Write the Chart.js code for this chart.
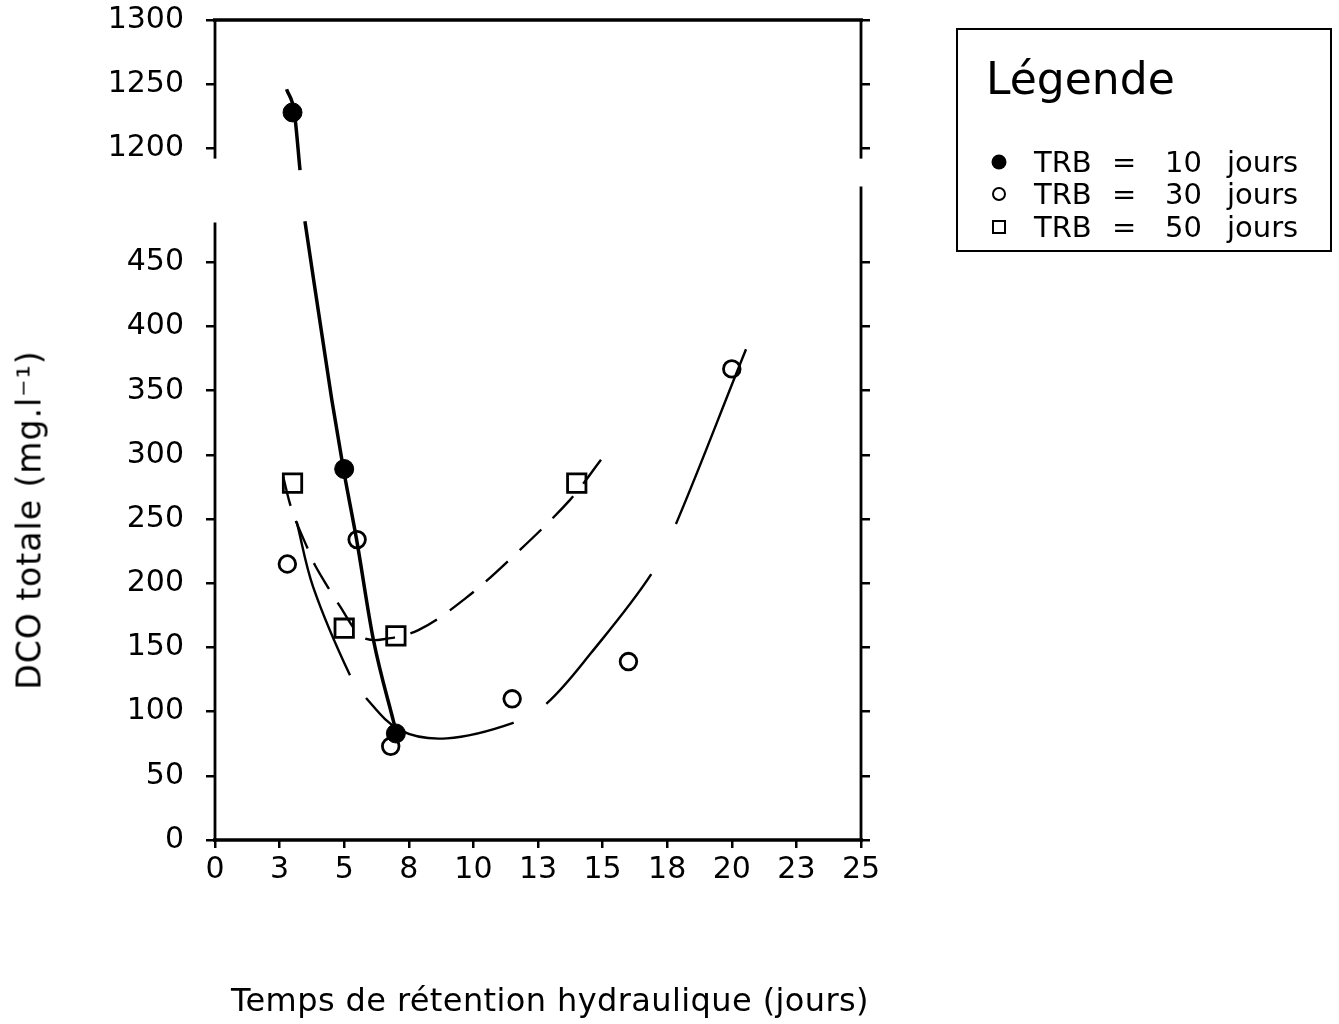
<!DOCTYPE html>
<html lang="fr">
<head>
<meta charset="utf-8">
<title>DCO totale / temps de rétention hydraulique</title>
<script src="https://cdn.jsdelivr.net/npm/chart.js@4.4.1/dist/chart.umd.min.js"></script>
<style>
    html, body { margin: 0; padding: 0; background: #fff; }
    #wrap { position: relative; width: 1339px; height: 1024px; font-family: 'DejaVu Sans', sans-serif; color: #000; }
    #chart { position: absolute; left: 0; top: 0; }
    #yTitle { position: absolute; left: 29px; top: 520px; transform: translate(-50%, -50%) rotate(-90deg); white-space: nowrap; font-size: 33px; letter-spacing: 1px; line-height: 1; }
    #xTitle { position: absolute; left: 550px; top: 1000px; transform: translate(-50%, -50%); white-space: nowrap; font-size: 32px; letter-spacing: 0.4px; line-height: 1; }
    #legendBox { position: absolute; left: 956px; top: 28px; width: 376px; height: 224px; border: 2.5px solid #000; box-sizing: border-box; }
    .lg { position: absolute; line-height: 1; white-space: nowrap; }
    #legendTitle { left: 986px; top: 57px; font-size: 44px; }
    .row { font-size: 29px; }
    .mk { position: absolute; transform: translate(-50%, -50%); box-sizing: border-box; }
    .dot { width: 15px; height: 15px; border-radius: 50%; background: #000; }
    .ring { width: 14px; height: 14px; border-radius: 50%; border: 2.5px solid #000; }
    .sq { width: 14px; height: 14px; border: 2.5px solid #000; }
</style>
</head>
<body>
<div id="wrap">
    <canvas id="chart" width="1339" height="1024"></canvas>
    <div id="yTitle">DCO totale (mg.l⁻¹)</div>
    <div id="xTitle">Temps de rétention hydraulique (jours)</div>
    <div id="legendBox"></div>
    <div id="legendTitle" class="lg">Légende</div>
    <div id="legendRows"></div>
</div>
<script>
// Measured points, DCO totale (mg/l) vs TRH (jours)
const trb10X = [3, 5, 7];
const trb10Y = [1228, 289, 83];
const trb30X = [2.8, 5.5, 6.8, 11.5, 16, 20];
const trb30Y = [215, 234, 73, 110, 139, 367];
const trb50X = [3, 5, 7, 14];
const trb50Y = [278, 165, 159, 278];

// Fitted curves, points
const fit10UpperX = [2.77, 3.07, 3.29];
const fit10UpperY = [1246, 1228, 1183];
const fit10LowerX = [3.48, 4.52, 4.97, 5.48, 6.13, 6.9, 7.03];
const fit10LowerY = [482, 343, 289, 234, 156, 93, 83];
const fit30X = [3.16, 3.8, 5.22, 5.8, 7.16, 8.97, 11.54, 12.84, 14.55, 16.9, 17.89, 20.24, 20.55];
const fit30Y = [248, 197, 128.5, 111.6, 85.6, 79.2, 91.3, 106.4, 145.6, 207.6, 248.6, 366.7, 382.3];
const fit50X = [2.64, 2.9, 3.16, 3.61, 3.87, 4.52, 4.84, 5.48, 5.8, 6.39, 7.87, 9.74, 11.54, 13.74, 14.97];
const fit50Y = [283, 262, 247, 226, 214, 192, 182, 162, 157, 156, 163.5, 189, 221, 265, 297];

// Axis ticks
const xTickValues = [0, 2.5, 5, 7.5, 10, 12.5, 15, 17.5, 20, 22.5, 25];
const xTickLabels = ['0', '3', '5', '8', '10', '13', '15', '18', '20', '23', '25'];
const yTickLabels = [0, 50, 100, 150, 200, 250, 300, 350, 400, 450, 1200, 1250, 1300];

const legendLabels = ['10', '30', '50'];

// broken y axis: everything above BREAK is shifted down by OFFSET
const BREAK = 1000;
const OFFSET = 661.2;
const toPlot = v => v > BREAK ? v - OFFSET : v;
const fromPlot = v => v > 500 ? Math.round(v + OFFSET) : Math.round(v);
const pts = (xs, ys) => xs.map((x, i) => ({ x: x, y: toPlot(ys[i]) }));

// where the frame lines are interrupted (data units)
const leftGap = [481, 1192];
const rightGap = [509, 1192];

Chart.defaults.font.family = "'DejaVu Sans', sans-serif";
Chart.defaults.color = '#000';

const brokenFrame = {
    id: 'brokenFrame',
    beforeDatasetsDraw(chart) {
        const { ctx, chartArea: { left, right, top, bottom }, scales: { y } } = chart;
        const seg = (x1, y1, x2, y2) => { ctx.beginPath(); ctx.moveTo(x1, y1); ctx.lineTo(x2, y2); ctx.stroke(); };
        ctx.save();
        ctx.strokeStyle = '#000';
        ctx.lineWidth = 3.5;
        seg(left - 2, top, right + 2, top);
        seg(left - 2, bottom, right + 2, bottom);
        ctx.lineWidth = 2.8;
        seg(left, top, left, y.getPixelForValue(toPlot(leftGap[1])));
        seg(left, y.getPixelForValue(toPlot(leftGap[0])), left, bottom);
        seg(right, top, right, y.getPixelForValue(toPlot(rightGap[1])));
        seg(right, y.getPixelForValue(toPlot(rightGap[0])), right, bottom);
        ctx.restore();
    }
};

const tickGrid = { drawOnChartArea: false, drawTicks: true, tickLength: 9, color: '#000', lineWidth: 2.5 };
const fitVertical = w => s => { s.width = w; s.paddingTop = 0; s.paddingBottom = 0; };

new Chart(document.getElementById('chart'), {
    type: 'scatter',
    data: {
        datasets: [
            { label: 'TRB = 10 jours', data: pts(trb10X, trb10Y), pointStyle: 'circle', pointRadius: 9.5, backgroundColor: '#000', borderColor: '#000', borderWidth: 1 },
            { label: 'TRB = 30 jours', data: pts(trb30X, trb30Y), pointStyle: 'circle', pointRadius: 8.3, backgroundColor: 'rgba(0,0,0,0)', borderColor: '#000', borderWidth: 2.8 },
            { label: 'TRB = 50 jours', data: pts(trb50X, trb50Y), pointStyle: 'rect', pointRadius: 13, backgroundColor: 'rgba(0,0,0,0)', borderColor: '#000', borderWidth: 2.8 },
            { label: 'fit10a', data: pts(fit10UpperX, fit10UpperY), showLine: true, pointRadius: 0, borderColor: '#000', borderWidth: 3.5, cubicInterpolationMode: 'monotone' },
            { label: 'fit10b', data: pts(fit10LowerX, fit10LowerY), showLine: true, pointRadius: 0, borderColor: '#000', borderWidth: 3.5, cubicInterpolationMode: 'monotone' },
            // long strokes with uneven breaks, as on the plotter drawing
            { label: 'fit30', data: pts(fit30X, fit30Y), showLine: true, pointRadius: 0, borderColor: '#000', borderWidth: 2.4, borderDash: [163, 28, 164, 38, 167, 56, 400], tension: 0.35 },
            { label: 'fit50', data: pts(fit50X, fit50Y), showLine: true, pointRadius: 0, borderColor: '#000', borderWidth: 2.4, borderDash: [30, 16], tension: 0.35 }
        ]
    },
    options: {
        responsive: false,
        devicePixelRatio: 1,
        animation: false,
        layout: { padding: { top: 20, right: 466, bottom: 0, left: 0 } },
        plugins: { legend: { display: false }, tooltip: { enabled: false } },
        scales: {
            x: {
                type: 'linear', min: 0, max: 25,
                afterBuildTicks: s => { s.ticks = xTickValues.map(v => ({ value: v })); },
                afterFit: s => { s.height = 184; },
                ticks: { font: { size: 30 }, padding: 4, maxRotation: 0, autoSkip: false, callback: (v, i) => xTickLabels[i] },
                grid: { ...tickGrid, tickLength: 8 },
                border: { display: false }
            },
            y: {
                type: 'linear', min: 0, max: toPlot(1300), position: 'left',
                afterBuildTicks: s => { s.ticks = yTickLabels.map(v => ({ value: toPlot(v) })); },
                afterFit: fitVertical(215),
                ticks: { font: { size: 30 }, padding: 22, autoSkip: false, callback: v => fromPlot(v) },
                grid: tickGrid,
                border: { display: false }
            },
            y2: {
                type: 'linear', min: 0, max: toPlot(1300), position: 'right',
                afterBuildTicks: s => { s.ticks = yTickLabels.map(v => ({ value: toPlot(v) })); },
                afterFit: fitVertical(12),
                ticks: { display: false },
                grid: tickGrid,
                border: { display: false }
            }
        }
    },
    plugins: [brokenFrame]
});

// HTML legend
const markClass = ['dot', 'ring', 'sq'];
const rowBaseline = [172, 204, 237];
const rows = document.getElementById('legendRows');
legendLabels.forEach((lab, i) => {
    const top = rowBaseline[i] - 24.5;
    rows.insertAdjacentHTML('beforeend',
        `<div class="mk ${markClass[i]}" style="left:999px;top:${rowBaseline[i] - 10}px"></div>` +
        `<div class="lg row" style="left:1034px;top:${top}px">TRB</div>` +
        `<div class="lg row" style="left:1112px;top:${top}px">=</div>` +
        `<div class="lg row" style="left:1165px;top:${top}px">${lab}</div>` +
        `<div class="lg row" style="left:1227px;top:${top}px">jours</div>`);
});
</script>
</body>
</html>
